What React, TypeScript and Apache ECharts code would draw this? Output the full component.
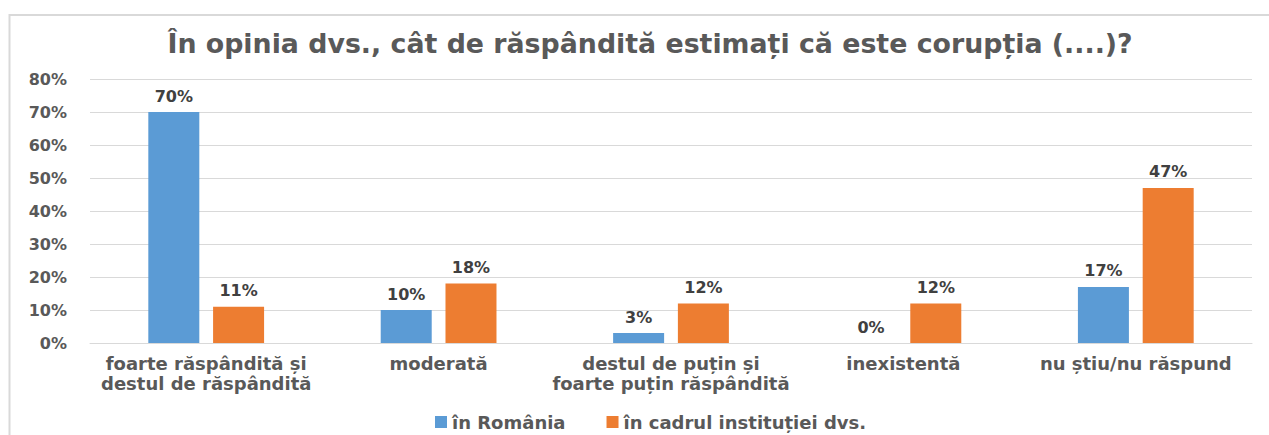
import React, { useEffect, useRef } from "react";
import * as echarts from "echarts";

const categories = [
  "foarte răspândită și\ndestul de răspândită",
  "moderată",
  "destul de puțin și\nfoarte puțin răspândită",
  "inexistentă",
  "nu știu/nu răspund",
];
const seriesNames = ["în România", "în cadrul instituției dvs."];
const romania = [70, 10, 3, 0, 17];
const institutie = [11, 18, 12, 12, 47];
const titleText = "În opinia dvs., cât de răspândită estimați că este corupția (....)?";

const FONT = "'DejaVu Sans', Verdana, sans-serif";

export default function App() {
  const ref = useRef<HTMLDivElement>(null);
  useEffect(() => {
    if (!ref.current) return;
    const chart = echarts.init(ref.current, null, { renderer: "svg" });
    const label = {
      show: true,
      position: "top",
      distance: 8,
      formatter: "{c}%",
      color: "#404040",
      fontFamily: FONT,
      fontWeight: "bold",
      fontSize: 16,
    };
    chart.setOption({
      animation: false,
      backgroundColor: "#ffffff",
      title: {
        text: titleText,
        left: 645,
        top: 25,
        textAlign: "center",
        textStyle: { color: "#595959", fontFamily: FONT, fontWeight: "bold", fontSize: 26.8 },
      },
      graphic: [
        { type: "line", shape: { x1: 9, y1: 15, x2: 1269, y2: 15 }, style: { stroke: "#d9d9d9", lineWidth: 2 } },
        { type: "line", shape: { x1: 9.5, y1: 14, x2: 9.5, y2: 435 }, style: { stroke: "#d9d9d9", lineWidth: 2 } },
      ],
      legend: {
        data: seriesNames,
        left: 437,
        top: 408,
        itemWidth: 12,
        itemHeight: 12,
        itemGap: 41,
        icon: "rect",
        textStyle: { color: "#595959", fontFamily: FONT, fontWeight: "bold", fontSize: 18 },
        align: "left",
      },
      grid: { left: 90, right: 17, top: 79, bottom: 92, containLabel: false },
      xAxis: {
        type: "category",
        data: categories,
        axisLine: { lineStyle: { color: "#d9d9d9", width: 1 } },
        axisTick: { show: false },
        axisLabel: {
          color: "#595959",
          fontFamily: FONT,
          fontWeight: "bold",
          fontSize: 18,
          lineHeight: 20,
          margin: 10,
          interval: 0,
        },
      },
      yAxis: {
        type: "value",
        min: 0,
        max: 80,
        interval: 10,
        axisLine: { show: false },
        axisTick: { show: false },
        splitLine: { lineStyle: { color: "#d9d9d9", width: 1 } },
        axisLabel: {
          formatter: "{value}%",
          color: "#595959",
          fontFamily: FONT,
          fontWeight: "bold",
          fontSize: 16,
          margin: 23,
        },
      },
      series: [
        {
          name: seriesNames[0],
          type: "bar",
          data: romania,
          barWidth: 51,
          barGap: "27%",
          itemStyle: { color: "#5B9BD5" },
          label,
        },
        {
          name: seriesNames[1],
          type: "bar",
          data: institutie,
          barWidth: 51,
          barGap: "27%",
          itemStyle: { color: "#ED7D31" },
          label,
        },
      ],
    });
    const legendWidth = (() => {
      const model: any = (chart as any).getModel().getComponent("legend");
      const view: any = model && (chart as any).getViewOfComponentModel(model);
      if (view && view.group) {
        const r = view.group.getBoundingRect();
        return r.width;
      }
      return 0;
    })();
    if (legendWidth) {
      chart.setOption({ legend: { left: Math.round(651 - legendWidth / 2) } });
    }
    return () => chart.dispose();
  }, []);
  return (
    <div
      ref={ref}
      style={{ position: "absolute", left: 0, top: 0, width: 1269, height: 435 }}
    />
  );
}
